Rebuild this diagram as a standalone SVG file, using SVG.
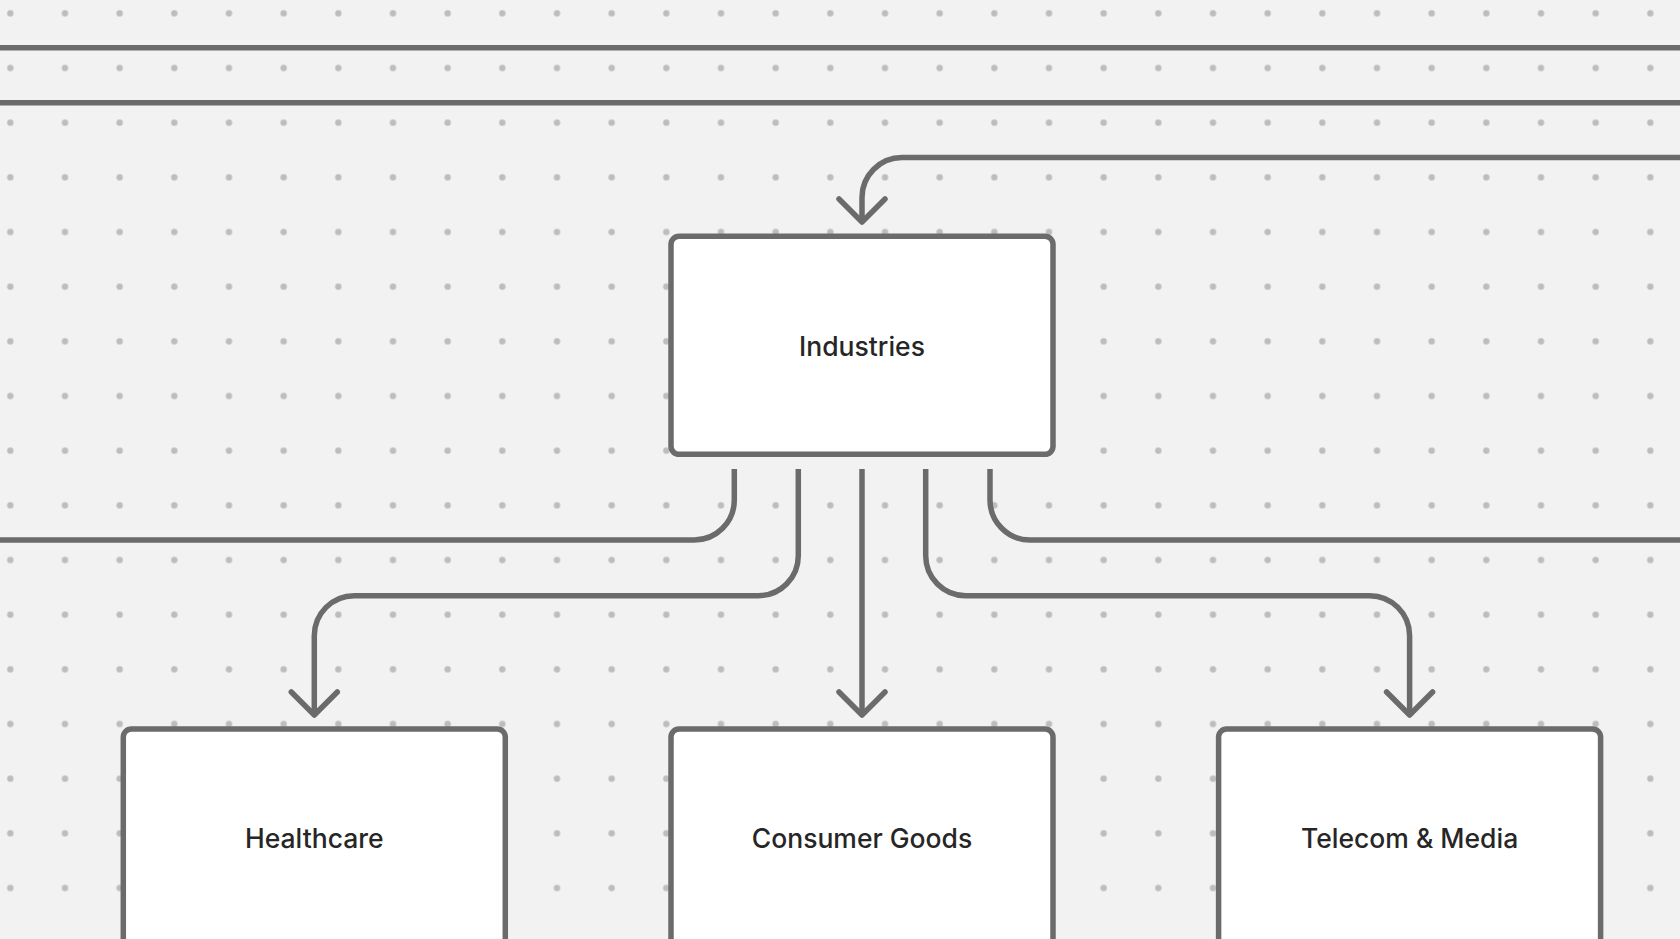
<svg xmlns="http://www.w3.org/2000/svg" width="1680" height="939" viewBox="0 0 1680 939">
  <defs>
    <pattern id="dots" x="-17" y="-14" width="54.667" height="54.667" patternUnits="userSpaceOnUse">
      <circle cx="27.333" cy="27.333" r="3.2" fill="#bdbdbd"/>
    </pattern>
    <marker id="arrow" viewBox="-30 -30 60 60" refX="0" refY="0" markerWidth="60" markerHeight="60" markerUnits="userSpaceOnUse" orient="auto" overflow="visible">
      <path d="M -23 -23 L 0 0 L -23 23" fill="none" stroke="#6b6b6b" stroke-width="5.5" stroke-linecap="round" stroke-linejoin="round"/>
    </marker>
    <style>
      .box { fill: #ffffff; stroke: #6b6b6b; stroke-width: 5.5; }
      .lbl { font-family: Inter, "Liberation Sans", sans-serif; font-size: 26.5px; font-weight: 500; fill: #262626; text-anchor: middle; dominant-baseline: central; }
      .edge { fill: none; stroke: #6b6b6b; stroke-width: 5.5; stroke-linecap: butt; stroke-linejoin: round; }
    </style>
  </defs>
  <rect x="0" y="0" width="1680" height="939" fill="#f2f2f2"/>
  <rect x="0" y="0" width="1680" height="939" fill="url(#dots)"/>

  <g id="connectors">
    <path class="edge" d="M 0 47.7 H 1680"/>
    <path class="edge" d="M 0 102.7 H 1680"/>
    <path class="edge" d="M 1680 157.5 H 902 A 40 40 0 0 0 862 197.5 V 222" marker-end="url(#arrow)"/>
    <path class="edge" d="M 734.3 469 V 500 A 40 40 0 0 1 694.3 540 H 0"/>
    <path class="edge" d="M 990 469 V 500 A 40 40 0 0 0 1030 540 H 1680"/>
    <path class="edge" d="M 798.3 469 V 555.7 A 40 40 0 0 1 758.3 595.7 H 354.3 A 40 40 0 0 0 314.3 635.7 V 715" marker-end="url(#arrow)"/>
    <path class="edge" d="M 862 469 V 715" marker-end="url(#arrow)"/>
    <path class="edge" d="M 925.7 469 V 555.7 A 40 40 0 0 0 965.7 595.7 H 1369.6 A 40 40 0 0 1 1409.6 635.7 V 715" marker-end="url(#arrow)"/>
  </g>

  <g id="industries">
    <rect class="box" x="671" y="236.3" width="382" height="218" rx="8"/>
    <text class="lbl" x="862" y="345.5">Industries</text>
  </g>
  <g id="healthcare">
    <rect class="box" x="123.3" y="729" width="382" height="218" rx="8"/>
    <text class="lbl" x="314.3" y="838">Healthcare</text>
  </g>
  <g id="consumer-goods">
    <rect class="box" x="671" y="729" width="382" height="218" rx="8"/>
    <text class="lbl" x="862" y="838">Consumer Goods</text>
  </g>
  <g id="telecom-media">
    <rect class="box" x="1218.6" y="729" width="382" height="218" rx="8"/>
    <text class="lbl" x="1409.6" y="838">Telecom &amp; Media</text>
  </g>
</svg>
